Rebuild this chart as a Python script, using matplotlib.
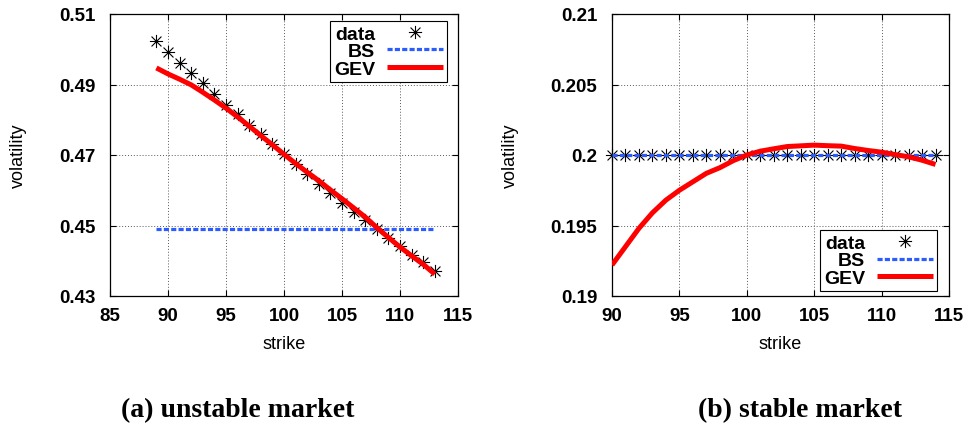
import matplotlib
matplotlib.use("Agg")
import matplotlib.pyplot as plt
from matplotlib.path import Path

plt.rcParams['font.family'] = ['Liberation Sans', 'DejaVu Sans']
plt.rcParams['font.weight'] = 'bold'

# (a) unstable market
strike_a = [89, 90, 91, 92, 93, 94, 95, 96, 97, 98, 99, 100, 101,
            102, 103, 104, 105, 106, 107, 108, 109, 110, 111, 112, 113]
data_a = [0.5023, 0.4992, 0.4962, 0.4933, 0.4903, 0.4872, 0.4843, 0.4815,
          0.4786, 0.4759, 0.4730, 0.4702, 0.4674, 0.4647, 0.4618, 0.4591,
          0.4564, 0.4538, 0.4516, 0.4491, 0.4464, 0.4441, 0.4417, 0.4396, 0.4372]
gev_a = [0.4947, 0.4930, 0.4915, 0.4899, 0.4878, 0.4856, 0.4833, 0.4808,
         0.4782, 0.4755, 0.4729, 0.4702, 0.4676, 0.4651, 0.4627, 0.4601,
         0.4576, 0.4550, 0.4524, 0.4494, 0.4466, 0.4439, 0.4414, 0.4390, 0.4362]
bs_a = 0.4489
xticks_a = [85, 90, 95, 100, 105, 110, 115]
yticks_a = [0.43, 0.45, 0.47, 0.49, 0.51]

# (b) stable market
strike_b = [90, 91, 92, 93, 94, 95, 96, 97, 98, 99, 100, 101, 102,
            103, 104, 105, 106, 107, 108, 109, 110, 111, 112, 113, 114]
data_b = [0.2] * len(strike_b)
gev_b = [0.1922, 0.1935, 0.1948, 0.1959, 0.1968, 0.1975, 0.1981, 0.1987,
         0.1991, 0.1996, 0.2000, 0.20027, 0.20044, 0.2006, 0.20065, 0.2007,
         0.20066, 0.20063, 0.20046, 0.20032, 0.2002, 0.20003, 0.19987, 0.19963, 0.19933]
bs_b = 0.2
xticks_b = [90, 95, 100, 105, 110, 115]
yticks_b = [0.19, 0.195, 0.2, 0.205, 0.21]
ytick_labels_b = ['0.19', '0.195', '0.2', '0.205', '0.21']

# gnuplot style "*" point: + and x on top of each other
M, L = Path.MOVETO, Path.LINETO
star = Path([(0, -1), (0, 1), (-1, 0), (1, 0),
             (-0.75, -0.75), (0.75, 0.75), (-0.75, 0.75), (0.75, -0.75)],
            [M, L, M, L, M, L, M, L])

blue = '#2a5cff'


def draw_panel(ax, x, data, bs, gev):
    ax.plot(x, data, linestyle='none', marker=star, markersize=9.5,
            markerfacecolor='none', markeredgecolor='k', markeredgewidth=0.8,
            clip_on=False, label='data', zorder=3)
    ax.plot(x, [bs] * len(x), color=blue, linewidth=2.3, dashes=(1.6, 0.7),
            dash_capstyle='butt', label='BS', zorder=4)
    ax.plot(x, gev, color='#ff0000', linewidth=3.6, solid_capstyle='butt',
            label='GEV', zorder=5)
    ax.grid(True, linestyle=(0, (1, 2)), color='0.35', linewidth=0.7)
    ax.tick_params(direction='in', length=4, width=0.8, top=True, right=True,
                   labelsize=13.5)
    ax.tick_params(axis='x', pad=8)
    ax.tick_params(axis='y', pad=10.5)
    for s in ax.spines.values():
        s.set_linewidth(0.9)
    ax.set_xlabel('strike', fontsize=13, fontweight='normal')
    ax.set_ylabel('volatility', fontsize=13, fontweight='normal')
    ax.xaxis.label.set_va('center')
    ax.yaxis.label.set_va('center')


def add_legend(ax, loc, anchor):
    leg = ax.legend(loc=loc, bbox_to_anchor=anchor, borderaxespad=0,
                    markerfirst=False, fontsize=14, fancybox=False, framealpha=1,
                    edgecolor='k', handlelength=2.9, handletextpad=0.6,
                    labelspacing=0.0, borderpad=0.2, numpoints=1)
    leg.get_frame().set_linewidth(0.8)
    return leg


fig = plt.figure(figsize=(9.7, 4.27), dpi=100)

ax1 = fig.add_axes([110 / 970, 130 / 427, 348 / 970, 282 / 427])
draw_panel(ax1, strike_a, data_a, bs_a, gev_a)
ax1.set_xlim(85, 115)
ax1.set_ylim(0.43, 0.51)
ax1.set_xticks(xticks_a)
ax1.set_yticks(yticks_a)
ax1.set_yticklabels(['%g' % v for v in yticks_a])
ax1.xaxis.set_label_coords(0.5, -0.17)
ax1.yaxis.set_label_coords(-0.264, 0.5)
add_legend(ax1, 'upper right', (0.968, 0.975))

ax2 = fig.add_axes([612 / 970, 130 / 427, 337 / 970, 282 / 427])
draw_panel(ax2, strike_b, data_b, bs_b, gev_b)
ax2.set_xlim(90, 115)
ax2.set_ylim(0.19, 0.21)
ax2.set_xticks(xticks_b)
ax2.set_yticks(yticks_b)
ax2.set_yticklabels(ytick_labels_b)
ax2.xaxis.set_label_coords(0.5, -0.17)
ax2.yaxis.set_label_coords(-0.3, 0.5)
add_legend(ax2, 'lower right', (0.964, 0.018))

fig.text(238 / 970, 10 / 427, '(a) unstable market', ha='center', va='baseline',
         fontsize=20, fontweight='bold', family=['Liberation Serif', 'DejaVu Serif'])
fig.text(800 / 970, 10 / 427, '(b) stable market', ha='center', va='baseline',
         fontsize=20, fontweight='bold', family=['Liberation Serif', 'DejaVu Serif'])

fig.savefig('out.png', dpi=100)
